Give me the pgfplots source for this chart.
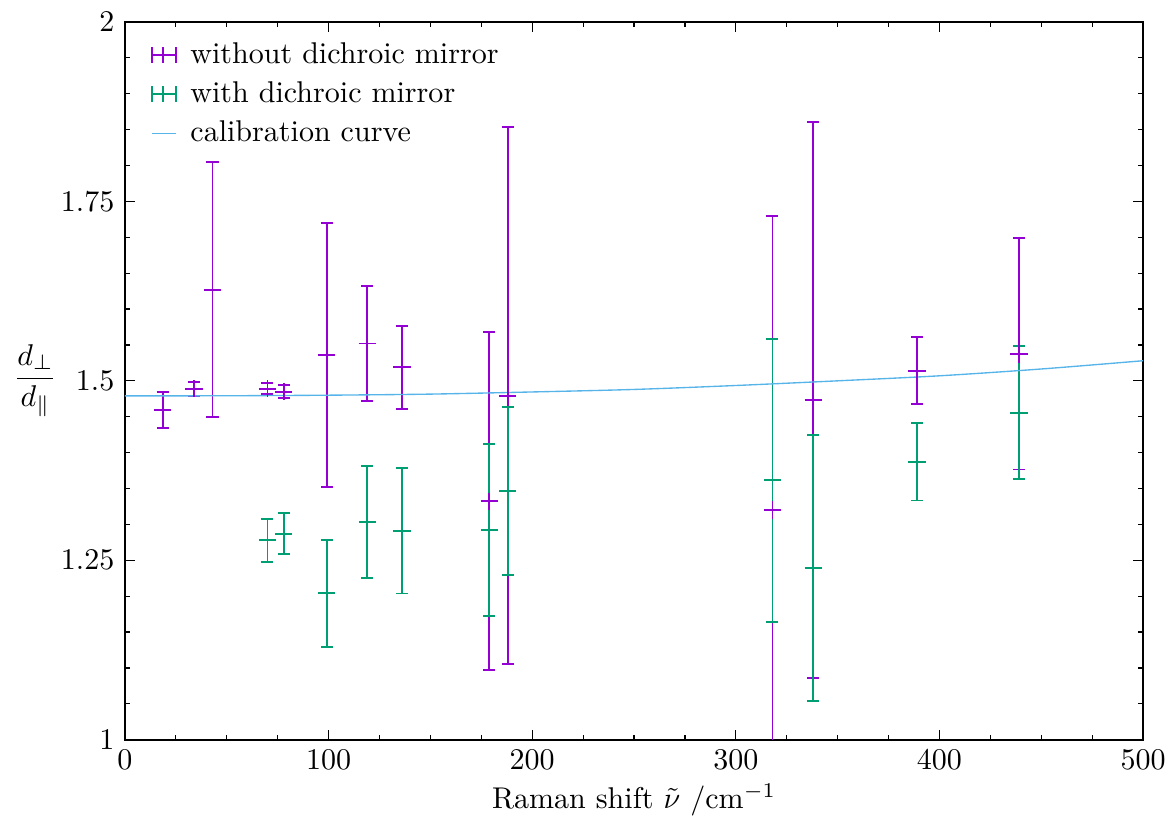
\documentclass[border=0pt]{standalone}
\usepackage{amsmath}
\usepackage{pgfplots}
\pgfplotsset{compat=1.18}
\usepackage{pgfplotstable}
\definecolor{cP}{HTML}{9400D3}
\definecolor{cG}{HTML}{009E73}
\definecolor{cB}{HTML}{56B4E9}

\pgfplotstableread{
x y e
18.5 1.4596 0.0255
34 1.4890 0.0095
43 1.6270 0.1780
70 1.4890 0.0080
78 1.4850 0.0092
99 1.5360 0.1845
119 1.5520 0.0800
136 1.5190 0.0580
179 1.3320 0.2355
188 1.4790 0.3740
318 1.3200 0.4100
338 1.4735 0.3870
389 1.5142 0.0470
439 1.5375 0.1610
}\without

\pgfplotstableread{
x y e
70 1.2776 0.0295
78 1.2870 0.0285
99 1.2038 0.0750
119 1.3027 0.0780
136 1.2910 0.0873
179 1.2922 0.1195
188 1.3470 0.1170
318 1.3613 0.1972
338 1.2389 0.1852
389 1.3871 0.0538
439 1.4556 0.0930
}\withmirror

\pgfplotstableread{
x y
0 1.4790
50 1.4792
100 1.4800
150 1.4815
200 1.4845
250 1.4880
300 1.4935
350 1.5000
400 1.5070
450 1.5165
500 1.5280
}\calib

\begin{document}
\begin{tikzpicture}
\begin{axis}[
  name=ax,
  scale only axis, width=339pt, height=239pt,
  xmin=0, xmax=500, ymin=1, ymax=2,
  xtick={0,100,...,500}, minor x tick num=3,
  ytick={1,1.25,1.5,1.75,2}, minor y tick num=4,
  tick align=inside, major tick length=3.3pt, minor tick length=1.7pt,
  tick style={black, line width=0.4pt},
  axis line style={line width=0.6pt},
  xlabel={Raman shift $\tilde{\nu}$ /cm$^{-1}$},
  ylabel={$\dfrac{d_\perp}{d_\parallel}$},
  every axis y label/.style={at={(axis description cs:-0.088,0.5)}, anchor=center},
  xlabel style={yshift=2pt},
  legend style={at={(axis description cs:0.022,0.985)}, anchor=north west, draw=none, fill=none, row sep=0.6pt, column sep=2.5pt, inner sep=1pt},
  legend cell align=left,
]
\addplot[cP, line width=0.65pt, only marks, mark=+, mark size=2.9pt,
  mark options={line width=0.65pt},
  error bars/.cd, y dir=both, y explicit,
  error bar style={line width=0.65pt},
  error mark options={rotate=90, mark size=2pt, line width=0.65pt},
  /pgfplots/legend image code/.code={
    \draw[cP, line width=0.65pt] (0pt,0pt) -- (8pt,0pt);
    \draw[cP, line width=0.65pt] (0pt,-2.6pt) -- (0pt,2.6pt);
    \draw[cP, line width=0.65pt] (3.6pt,-2.6pt) -- (3.6pt,2.6pt);
    \draw[cP, line width=0.65pt] (8pt,-2.6pt) -- (8pt,2.6pt);
  }]
  table[x=x, y=y, y error=e] {\without};
\addlegendentry{without dichroic mirror}
\addplot[cG, line width=0.65pt, only marks, mark=+, mark size=2.9pt,
  mark options={line width=0.65pt},
  error bars/.cd, y dir=both, y explicit,
  error bar style={line width=0.65pt},
  error mark options={rotate=90, mark size=2pt, line width=0.65pt},
  /pgfplots/legend image code/.code={
    \draw[cG, line width=0.65pt] (0pt,0pt) -- (8pt,0pt);
    \draw[cG, line width=0.65pt] (0pt,-2.6pt) -- (0pt,2.6pt);
    \draw[cG, line width=0.65pt] (3.6pt,-2.6pt) -- (3.6pt,2.6pt);
    \draw[cG, line width=0.65pt] (8pt,-2.6pt) -- (8pt,2.6pt);
  }]
  table[x=x, y=y, y error=e] {\withmirror};
\addlegendentry{with dichroic mirror}
\addplot[cB, line width=0.45pt, smooth, no marks,
  legend image code/.code={\draw[cB, line width=0.45pt] (0pt,0pt) -- (8pt,0pt);}]
  table[x=x, y=y] {\calib};
\addlegendentry{calibration curve}
\end{axis}
\pgfresetboundingbox
\path[use as bounding box] ([shift={(-41.6pt,-27pt)}]ax.south west) rectangle ([shift={(8.3pt,7.3pt)}]ax.north east);
\end{tikzpicture}
\end{document}
